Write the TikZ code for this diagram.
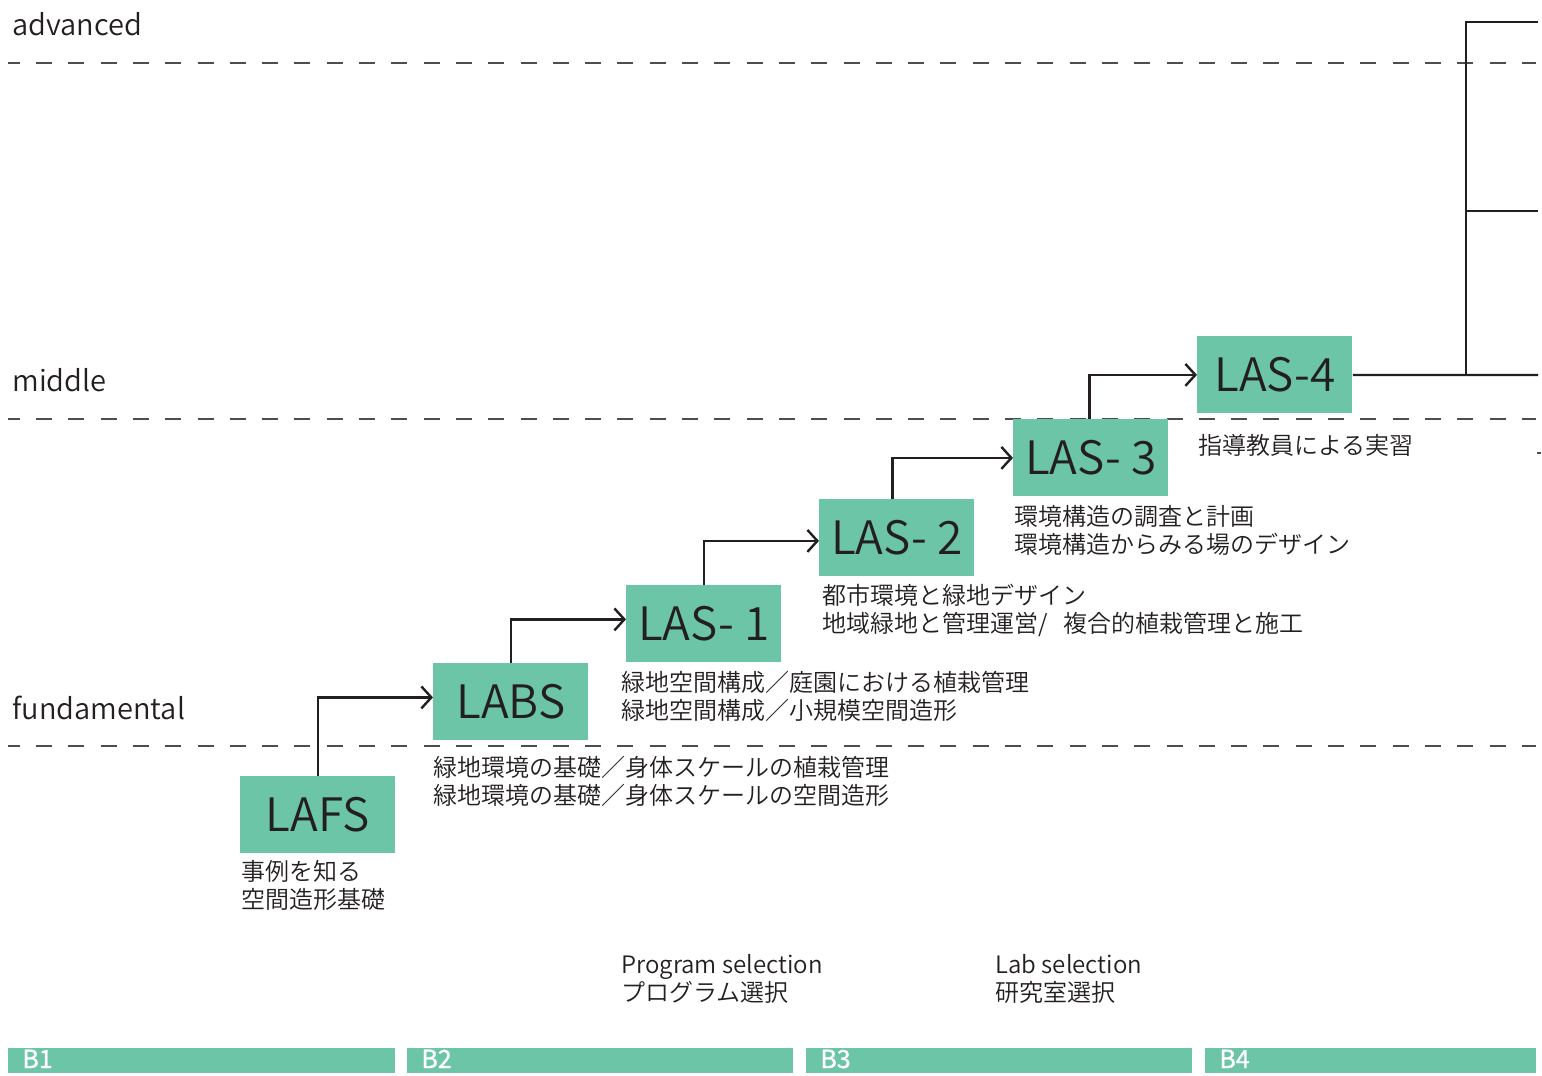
\documentclass[tikz,border=0pt]{standalone}
\usepackage{fontspec}
\IfFontExistsTF{Noto Sans CJK JP DemiLight}{\setmainfont{Noto Sans CJK JP DemiLight}}{\IfFontExistsTF{Noto Sans CJK JP Light}{\setmainfont{Noto Sans CJK JP Light}}{\setmainfont{Noto Sans CJK JP}}}
\newfontfamily\yearfont{Noto Sans CJK JP}[FakeBold=1.2]
\usetikzlibrary{arrows.meta}
\definecolor{boxgreen}{HTML}{6CC5A6}
\definecolor{ink}{HTML}{231F20}
\definecolor{dashgray}{HTML}{4D4D4D}
\begin{document}
\begin{tikzpicture}[x=0.5pt,y=-0.5pt,
  course/.style={fill=boxgreen, anchor=north west, minimum width=77.5pt, minimum height=38.5pt, inner sep=0pt, font=\fontsize{23}{26}\selectfont, text=ink},
  desc/.style={anchor=base west, inner sep=0pt, font=\fontsize{12}{14}\selectfont, text=ink},
  level/.style={anchor=base west, inner sep=0pt, font=\fontsize{14.5}{17}\selectfont, text=ink},
  levelline/.style={dashgray, line width=0.7pt, dash pattern=on 8pt off 8.15pt, dash phase=2.15pt},
  flow/.style={ink, line width=1.2pt, -{Straight Barb[length=5pt,width=11pt,line width=1.2pt]}},
  bracket/.style={ink, line width=1.1pt},
  yearbar/.style={fill=boxgreen, anchor=north west, minimum height=12.75pt, inner sep=0pt},
  yearlabel/.style={anchor=base west, inner sep=0pt, text=white, font=\yearfont\fontsize{12.5}{15}\selectfont},
]
\useasboundingbox (0,0) rectangle (1542,1076);

% level lines
\coordinate (a0) at (8,63);   \coordinate (a1) at (1536,63);
\coordinate (m0) at (8,419);  \coordinate (m1) at (1536,419);
\coordinate (f0) at (8,746);  \coordinate (f1) at (1536,746);
\draw[levelline] (a0) -- (a1);
\draw[levelline] (m0) -- (m1);
\draw[levelline] (f0) -- (f1);
\coordinate (t0) at (1537,453); \coordinate (t1) at (1541,453);
\draw[dashgray, line width=0.6pt] (t0) -- (t1);

% level labels
\node[level] (ladv) at (12,35) {advanced};
\node[level] (lmid) at (12,391) {middle};
\node[level] (lfun) at (12,719) {fundamental};

% course boxes
\node[course] (lafs) at (240,776) {LAFS};
\node[course] (labs) at (433,663) {LABS};
\node[course] (las1) at (626,585) {LAS- 1};
\node[course] (las2) at (819,499) {LAS- 2};
\node[course] (las3) at (1013,419) {LAS- 3};
\node[course] (las4) at (1197,336) {LAS-4};

% arrows
\draw[flow] (lafs.north) |- ([yshift=2.25pt]labs.west);
\draw[flow] (labs.north) |- ([yshift=2.25pt]las1.west);
\draw[flow] (las1.north) |- ([yshift=-1.5pt]las2.west);
\draw[flow] ([xshift=-2.25pt]las2.north) |- (las3.west);
\draw[flow] ([xshift=-0.75pt]las3.north) |- (las4.west);

% bracket at right
\coordinate (j0) at (1466,375);
\coordinate (r0) at (1538,375);
\coordinate (r1) at (1538,211);
\coordinate (r2) at (1538,22);
\draw[bracket] (las4.east) -- (r0);
\draw[bracket] (j0) |- (r2);
\draw[bracket] (j0 |- r1) -- (r1);

% descriptions
\node[desc] (dlafs) at (241,880) {\begin{tabular}[t]{@{}l@{}}事例を知る\\空間造形基礎\end{tabular}};
\node[desc] (dlabs) at (433,776) {\begin{tabular}[t]{@{}l@{}}緑地環境の基礎／身体スケールの植栽管理\\緑地環境の基礎／身体スケールの空間造形\end{tabular}};
\node[desc] (dlas1) at (621,691) {\begin{tabular}[t]{@{}l@{}}緑地空間構成／庭園における植栽管理\\緑地空間構成／小規模空間造形\end{tabular}};
\node[desc] (dlas2) at (822,604) {\begin{tabular}[t]{@{}l@{}}都市環境と緑地デザイン\\地域緑地と管理運営/\hspace{5pt} 複合的植栽管理と施工\end{tabular}};
\node[desc] (dlas3) at (1014,525) {\begin{tabular}[t]{@{}l@{}}環境構造の調査と計画\\環境構造からみる場のデザイン\end{tabular}};
\node[desc] (dlas4) at (1198,454) {指導教員による実習};

\node[desc] (prog) at (621,973) {\begin{tabular}[t]{@{}l@{}}Program selection\\プログラム選択\end{tabular}};
\node[desc] (lab) at (995,973) {\begin{tabular}[t]{@{}l@{}}Lab selection\\研究室選択\end{tabular}};

% year bars
\node[yearbar, minimum width=193.5pt] (b1) at (8,1047.5) {};
\node[yearbar, minimum width=193pt] (b2) at (407,1047.5) {};
\node[yearbar, minimum width=193pt] (b3) at (806,1047.5) {};
\node[yearbar, minimum width=165.5pt] (b4) at (1205,1047.5) {};
\node[yearlabel] (b1t) at (22,1068) {B1};
\node[yearlabel] (b2t) at (421,1068) {B2};
\node[yearlabel] (b3t) at (820,1068) {B3};
\node[yearlabel] (b4t) at (1219,1068) {B4};
\end{tikzpicture}
\end{document}
